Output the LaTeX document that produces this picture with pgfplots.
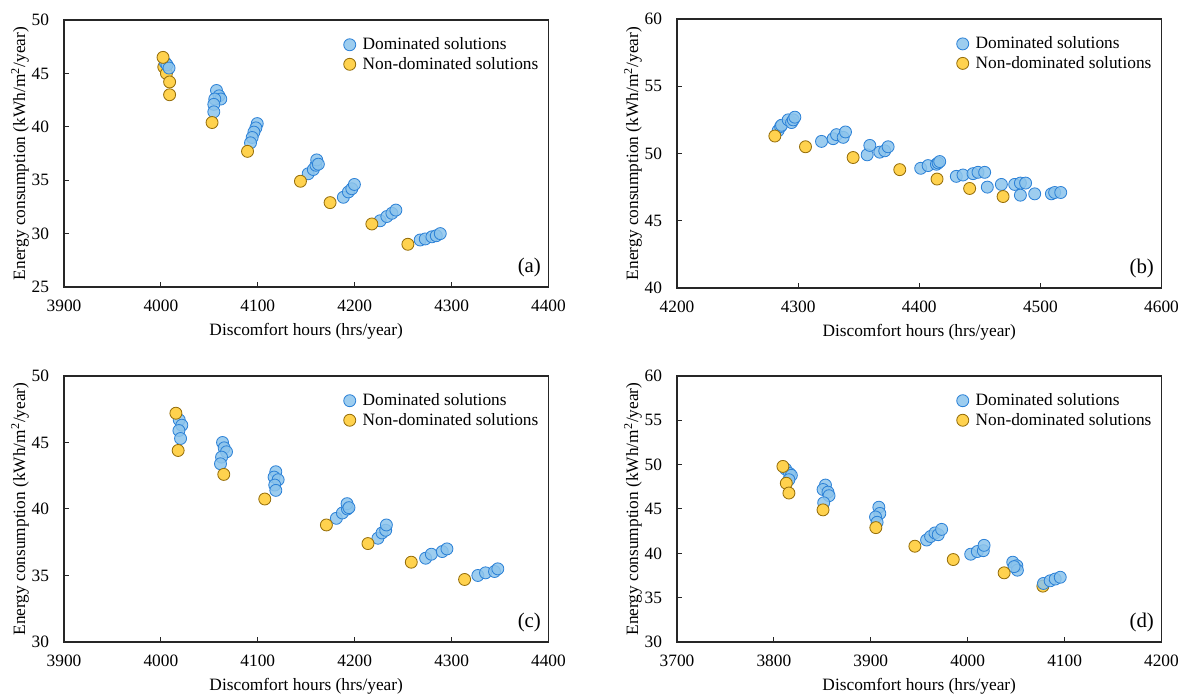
\documentclass[border=0pt]{standalone}
\usepackage{pgfplots}
\pgfplotsset{compat=1.18}
\usepackage{fontspec}
\setmainfont{Liberation Serif}

\definecolor{domfill}{RGB}{140,196,236}
\definecolor{domdraw}{RGB}{45,130,215}
\definecolor{ndfill}{RGB}{255,210,78}
\definecolor{nddraw}{RGB}{150,110,10}

\tikzset{panellabel/.style={anchor=south east, inner sep=0pt, font=\fontsize{12.5}{15}\selectfont}}

\pgfplotsset{
  panel/.style={
    scale only axis,
    width=290.7pt,
    axis line style={line width=0.8pt, black!85},
    tick align=inside, xtick pos=left, ytick pos=left,
    major tick length=3pt,
    tick style={line width=0.6pt, black!85},
    xtick distance=100, ytick distance=5,
    /pgf/number format/assume math mode=true,
    /pgf/number format/1000 sep={},
    xticklabel style={yshift=-4pt},
    yticklabel style={xshift=-5.5pt},
    xlabel={Discomfort hours (hrs/year)},
    ylabel={Energy consumption (kWh/m\textsuperscript{2}/year)},
    every axis x label/.style={at={(axis description cs:0.5,-0.165)}, anchor=center},
    every axis y label/.style={at={(axis description cs:-0.091,0.5)}, anchor=center, rotate=90},
    legend style={at={(axis description cs:0.985,0.945)}, anchor=north east,
      draw=none, fill=none, inner sep=0pt,
      nodes={inner sep=1.5pt}},
    legend cell align=left,
    legend image code/.code={
      \path[draw=none, fill=none] (0cm,0cm) -- (0.42cm,0cm);
      \draw[##1, only marks] plot coordinates {(0.2cm,0cm)};
    },
  },
  dom/.style={only marks, mark=*, mark size=3.6pt,
    mark options={fill=domfill, draw=domdraw, line width=0.5pt, fill opacity=0.85}},
  nd/.style={only marks, mark=*, mark size=3.6pt,
    mark options={fill=ndfill, draw=nddraw, line width=0.5pt}},
}

\begin{document}
\begin{tikzpicture}[font=\fontsize{10.4}{12.5}\selectfont]
\useasboundingbox (0,0) rectangle (710.4pt,417pt);

% (a)
\begin{axis}[panel, at={(38.4pt,244.8pt)}, anchor=south west, height=160.2pt,
  xmin=3900, xmax=4400, ymin=25, ymax=50]
\addplot[nd, forget plot] coordinates {(4003.0,45.6) (4005.7,45.0)};
\addplot[dom] coordinates {
  (4004.6,46.0) (4006.3,45.8) (4008.4,45.5)
  (4057.4,43.4) (4060.0,42.9) (4061.8,42.6) (4055.6,42.6) (4054.6,42.1) (4054.6,41.4)
  (4099.4,40.3) (4098.0,39.9) (4096.0,39.5) (4094.2,39.0) (4092.5,38.5)
  (4152.0,35.6) (4157.3,36.0) (4160.0,36.4) (4160.8,36.9) (4162.5,36.5)
  (4188.3,33.4) (4193.5,33.9) (4197.0,34.2) (4199.7,34.6)
  (4226.3,31.2) (4233.2,31.6) (4238.4,31.9) (4242.5,32.2)
  (4267.6,29.4) (4272.8,29.5) (4279.7,29.7) (4284.2,29.8) (4288.3,30.0)
};
\addlegendentry{Dominated solutions}
\addplot[nd] coordinates {
  (4002.2,46.5) (4009.0,44.2) (4009.0,43.0) (4052.8,40.4) (4089.4,37.7)
  (4144.0,34.9) (4174.6,32.9) (4217.7,30.9) (4254.9,29.0)
};
\addlegendentry{Non-dominated solutions}
\node[panellabel] at (rel axis cs:0.985,0.035) {(a)};
\end{axis}

% (b)
\begin{axis}[panel, at={(406.2pt,244.2pt)}, anchor=south west, height=161.4pt,
  xmin=4200, xmax=4600, ymin=40, ymax=60]
\addplot[dom] coordinates {
  (4283.5,51.7) (4285.5,52.0) (4286.3,52.1) (4291.8,52.5) (4294.6,52.3) (4296.0,52.5) (4297.3,52.7)
  (4319.3,50.9) (4328.9,51.1) (4331.7,51.4) (4337.2,51.2) (4339.1,51.6)
  (4357.0,49.9) (4359.2,50.6) (4367.4,50.1) (4371.5,50.2) (4374.3,50.5)
  (4401.2,48.9) (4407.3,49.1) (4414.2,49.2) (4415.6,49.3) (4416.9,49.4)
  (4430.6,48.3) (4436.1,48.4) (4444.4,48.5) (4448.5,48.6) (4454.0,48.6)
  (4456.2,47.5) (4467.8,47.7) (4478.8,47.7) (4483.5,47.8) (4487.8,47.8)
  (4483.5,46.9) (4495.3,47.0) (4509.1,47.0) (4511.8,47.1) (4516.8,47.1)
};
\addlegendentry{Dominated solutions}
\addplot[nd] coordinates {
  (4280.8,51.3) (4306.1,50.5) (4345.4,49.7) (4383.9,48.8)
  (4414.7,48.1) (4441.6,47.4) (4469.2,46.8)
};
\addlegendentry{Non-dominated solutions}
\node[panellabel] at (rel axis cs:0.985,0.035) {(b)};
\end{axis}

% (c)
\begin{axis}[panel, at={(38.4pt,31.8pt)}, anchor=south west, height=159.6pt,
  xmin=3900, xmax=4400, ymin=30, ymax=50]
\addplot[dom] coordinates {
  (4018.9,46.7) (4021.6,46.3) (4018.6,45.9) (4020.3,45.3)
  (4063.6,45.0) (4065.3,44.6) (4067.7,44.3) (4062.6,43.9) (4061.5,43.4)
  (4118.6,42.8) (4116.8,42.4) (4121.0,42.2) (4117.5,41.8) (4118.6,41.4)
  (4181.1,39.3) (4187.3,39.7) (4192.5,40.0) (4192.1,40.4) (4194.1,40.1)
  (4224.0,37.8) (4228.2,38.2) (4232.0,38.4) (4232.7,38.8)
  (4273.2,36.3) (4279.1,36.6) (4290.4,36.8) (4295.2,37.0)
  (4327.1,35.0) (4335.0,35.2) (4344.3,35.3) (4347.7,35.5)
};
\addlegendentry{Dominated solutions}
\addplot[nd] coordinates {
  (4015.5,47.2) (4017.8,44.4) (4064.9,42.6) (4107.2,40.75)
  (4170.8,38.8) (4213.7,37.4) (4258.4,36.0) (4313.4,34.7)
};
\addlegendentry{Non-dominated solutions}
\node[panellabel] at (rel axis cs:0.985,0.035) {(c)};
\end{axis}

% (d)
\begin{axis}[panel, at={(406.2pt,31.8pt)}, anchor=south west, height=159.6pt,
  xmin=3700, xmax=4200, ymin=30, ymax=60]
\addplot[nd, forget plot] coordinates {(4077.6,36.3)};
\addplot[dom] coordinates {
  (3812.1,49.5) (3816.2,49.0) (3818.0,48.8) (3815.5,48.3)
  (3853.2,47.7) (3850.7,47.2) (3855.8,46.9) (3856.9,46.5) (3851.4,45.7)
  (3908.3,45.2) (3909.3,44.5) (3904.9,44.1) (3906.5,43.5)
  (3957.6,41.5) (3961.7,41.9) (3966.2,42.3) (3969.6,42.1) (3973.1,42.7)
  (4003.1,39.9) (4009.9,40.2) (4016.1,40.3) (4016.9,40.9)
  (4046.5,39.0) (4050.7,38.6) (4051.3,38.1) (4047.9,38.5)
  (4078.2,36.6) (4085.1,36.9) (4090.3,37.1) (4095.5,37.3)
};
\addlegendentry{Dominated solutions}
\addplot[nd] coordinates {
  (3809.3,49.8) (3812.8,47.9) (3815.5,46.8) (3850.7,44.9) (3905.2,42.9)
  (3945.5,40.8) (3985.1,39.3) (4037.6,37.8)
};
\addlegendentry{Non-dominated solutions}
\node[panellabel] at (rel axis cs:0.985,0.035) {(d)};
\end{axis}
\end{tikzpicture}
\end{document}
